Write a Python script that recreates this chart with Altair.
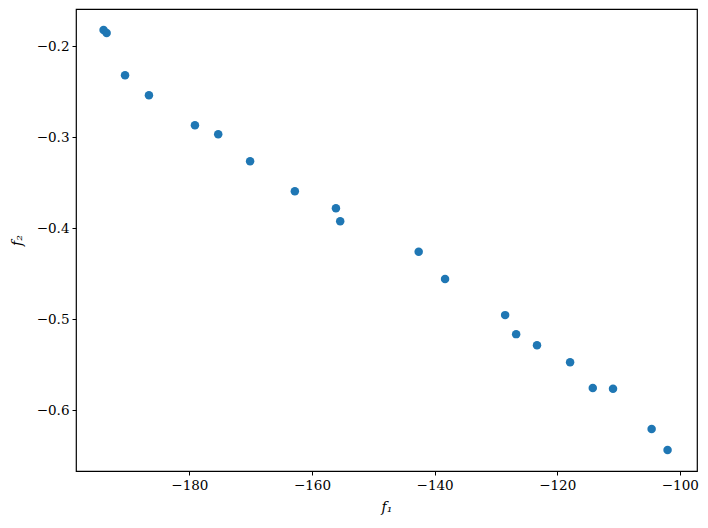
import altair as alt
import pandas as pd

f1 = [-194.0, -193.5, -190.5, -186.6, -179.1, -175.3, -170.1, -162.8, -156.1, -155.4,
      -142.6, -138.3, -128.5, -126.7, -123.3, -117.9, -114.2, -110.9, -104.6, -102.0]
f2 = [-0.182, -0.1854, -0.2319, -0.2538, -0.2868, -0.2967, -0.3264, -0.3593, -0.378, -0.3923,
      -0.426, -0.456, -0.4956, -0.5165, -0.5286, -0.5473, -0.5758, -0.5766, -0.6209, -0.644]

df = pd.DataFrame({"f1": f1, "f2": f2})

FONT = "DejaVu Serif"

chart = alt.Chart(df).mark_circle(size=72, color="#1f77b4", opacity=1).encode(
    x=alt.X("f1:Q", title="f₁",
            scale=alt.Scale(domain=[-198.5, -97.2], nice=False, zero=False),
            axis=alt.Axis(values=[-180, -160, -140, -120, -100], grid=False,
                          tickSize=4, labelPadding=3, titlePadding=9)),
    y=alt.Y("f2:Q", title="f₂",
            scale=alt.Scale(domain=[-0.667, -0.159], nice=False, zero=False),
            axis=alt.Axis(values=[-0.2, -0.3, -0.4, -0.5, -0.6], format=".1f", grid=False,
                          tickSize=4, labelPadding=3, titlePadding=12)),
).properties(
    width=621, height=462,
    autosize=alt.AutoSizeParams(type="none"),
    padding={"left": 68, "top": 1, "right": 2, "bottom": 48},
).configure_axis(
    domain=False,
    tickColor="black", labelColor="black", titleColor="black",
    labelFont=FONT, titleFont=FONT, labelFontSize=13.5, titleFontSize=14,
    titleFontWeight="normal", titleFontStyle="italic",
).configure_view(
    stroke="black", strokeWidth=1.2
)

chart.save("out.html", embed_options={"renderer": "svg", "actions": False})
